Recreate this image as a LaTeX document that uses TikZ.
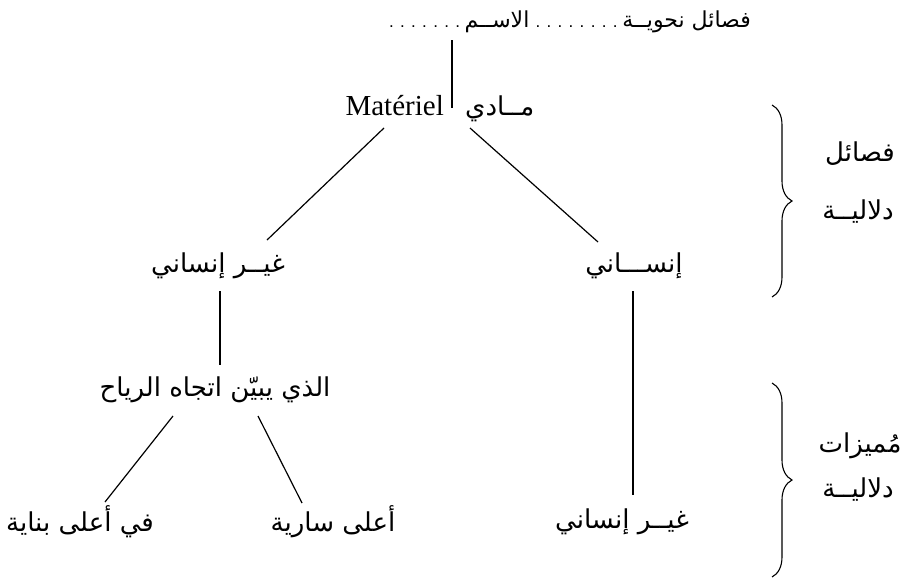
\documentclass[tikz,border=0pt]{standalone}
\usepackage{fontspec}
\setmainfont{Liberation Serif}
\newfontfamily\arabicfont[Script=Arabic]{DejaVu Sans}
\newfontfamily\dotsfont{Liberation Sans}
\TeXXeTstate=1
\usetikzlibrary{decorations.pathreplacing}

% Dotted leaders of the top line
\newcommand{\leaderdots}[1]{{\dotsfont\fontsize{17}{21}\selectfont #1}}

\begin{document}
\begin{tikzpicture}[x=1pt,y=-1pt,
  arlabel/.style={font=\arabicfont\fontsize{26}{30}\selectfont,inner sep=0pt},
  toplabel/.style={font=\arabicfont\fontsize{22}{26}\selectfont,inner sep=0pt},
  frlabel/.style={font=\fontsize{29}{33}\selectfont,inner sep=0pt},
  branch/.style={line width=1.2pt},
  bracket/.style={line width=1.1pt,decorate,decoration={brace,amplitude=20pt}}]

% Fix the size of the page
\useasboundingbox (0,0) rectangle (905,581);

% Top line of the tree
\node[toplabel] (top) at (570,22) {\beginR فصائل نحويــة\leaderdots{ . . . . . . . . }الاســم\leaderdots{ . . . . . . .}\endR};

% Root: Materiel / madi
\node[frlabel,anchor=base east] (mat) at (444,115) {Matériel};
\node[arlabel,anchor=base west] (madi) at (465,115) {\beginR مــادي\endR};

% Second level
\node[arlabel] (nonhum) at (218,266) {\beginR غيــر إنساني\endR};
\node[arlabel] (hum) at (634,266) {\beginR إنســـاني\endR};

% Third level
\node[arlabel] (wind) at (215,390) {\beginR الذي يبيّن اتجاه الرياح\endR};

% Leaves
\node[arlabel] (bldg) at (80,522) {\beginR في أعلى بناية\endR};
\node[arlabel] (mast) at (333,522) {\beginR أعلى سارية\endR};
\node[arlabel] (nonhumb) at (622,522) {\beginR غيــر إنساني\endR};

% Ends of the branches
\coordinate (stemtop) at (452,40);
\coordinate (stembot) at (452,108);
\coordinate (rootl) at (384,128);
\coordinate (rootr) at (470,128);
\coordinate (nonhumtop) at (267,240);
\coordinate (humtop) at (598,242);
\coordinate (windl) at (173,416);
\coordinate (windr) at (258,416);
\coordinate (bldgtop) at (105,502);
\coordinate (masttop) at (302,503);

% Draw the branches
\draw[branch] (stemtop) -- (stembot);
\draw[branch] (rootl) -- (nonhumtop);
\draw[branch] (rootr) -- (humtop);
\draw[branch] ([yshift=-12pt]nonhum.south -| 220,0) -- ([yshift=12pt]wind.north -| 220,0);
\draw[branch] ([yshift=-12pt]hum.south -| 633,0) -- ([yshift=14pt]nonhumb.north -| 633,0);
\draw[branch] (windl) -- (bldgtop);
\draw[branch] (windr) -- (masttop);

% Draw the brackets on the right
\coordinate (b1top) at (772,105);
\coordinate (b1bot) at (772,297);
\coordinate (b2top) at (772,383);
\coordinate (b2bot) at (772,577);
\draw[bracket] (b1top) -- (b1bot);
\draw[bracket] (b2top) -- (b2bot);

\node[arlabel] (sem1) at (860,154) {\beginR فصائل\endR};
\node[arlabel] (sem2) at (858,212) {\beginR دلاليــة\endR};
\node[arlabel] (dist1) at (860,446) {\beginR مُميزات\endR};
\node[arlabel] (dist2) at (858,490) {\beginR دلاليــة\endR};

\end{tikzpicture}
\end{document}
